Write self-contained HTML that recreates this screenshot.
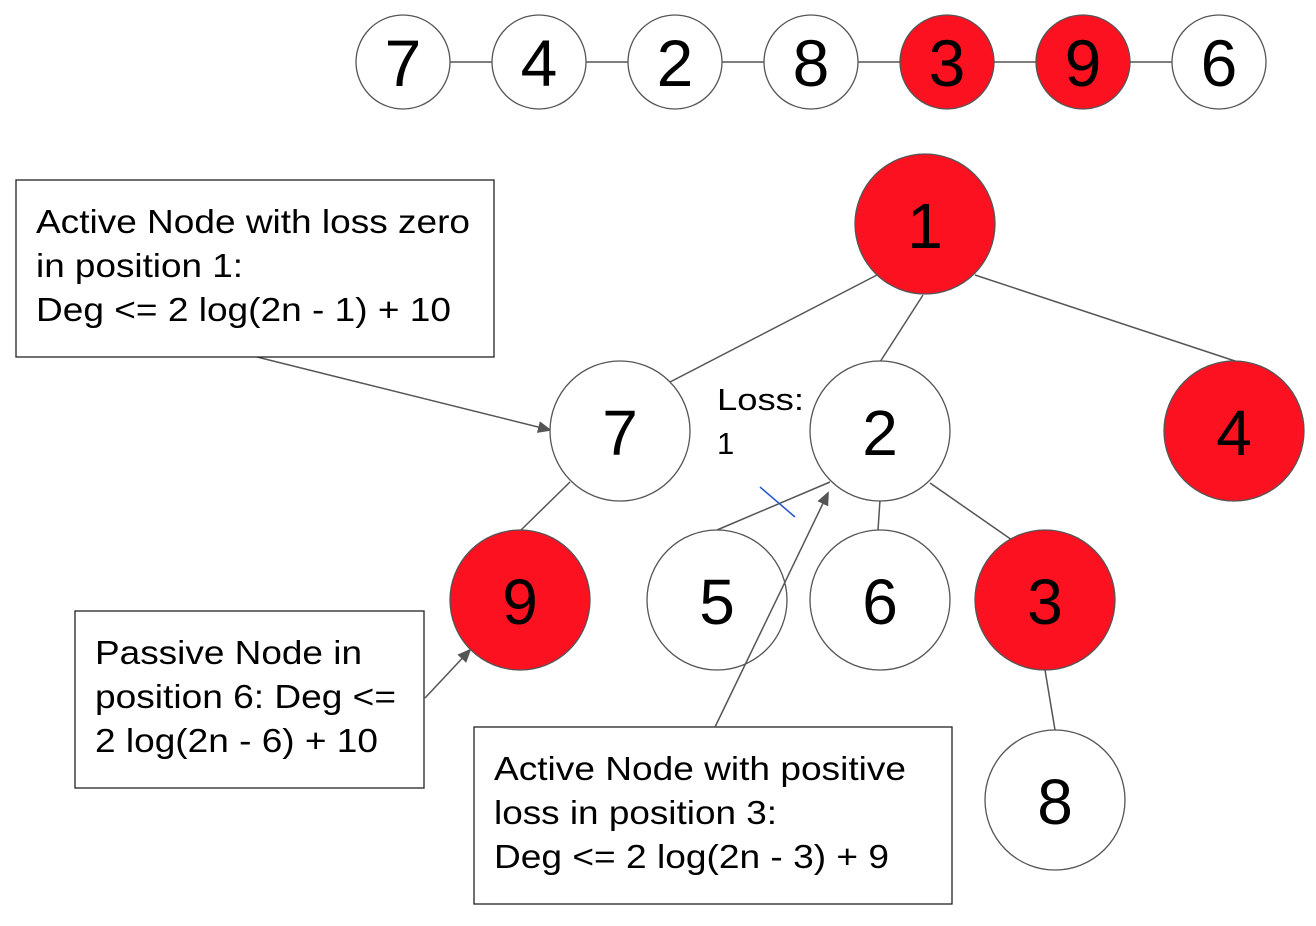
<!DOCTYPE html>
<html><head><meta charset="utf-8"><style>
html,body{margin:0;padding:0;background:#fff;width:1316px;height:926px;overflow:hidden}
svg{display:block}
text{font-family:"Liberation Sans",Arial,sans-serif}
</style></head><body>
<svg width="1316" height="926" viewBox="0 0 1316 926" xmlns="http://www.w3.org/2000/svg">
<defs><marker id="a" markerWidth="14" markerHeight="12" refX="12" refY="6" orient="auto" markerUnits="userSpaceOnUse"><path d="M0,0 L14,6 L0,12 z" fill="#555"/></marker></defs>
<g stroke="#555" stroke-width="1.5">
<line x1="450" y1="62" x2="492" y2="62"/><line x1="586" y1="62" x2="628" y2="62"/><line x1="722" y1="62" x2="764" y2="62"/><line x1="858" y1="62" x2="900" y2="62"/><line x1="994" y1="62" x2="1036" y2="62"/><line x1="1130" y1="62" x2="1172" y2="62"/>
<line x1="877" y1="275" x2="670" y2="382"/><line x1="923" y1="295" x2="880" y2="362"/><line x1="975" y1="275" x2="1238" y2="362"/>
<line x1="570" y1="482" x2="520" y2="531"/><line x1="830" y1="482" x2="717" y2="530"/><line x1="880" y1="500" x2="878" y2="530"/><line x1="930" y1="483" x2="1012" y2="540"/><line x1="1045" y1="670" x2="1055" y2="730"/>
<line x1="257" y1="357" x2="550" y2="430" marker-end="url(#a)"/>
<line x1="425" y1="698" x2="470" y2="650" marker-end="url(#a)"/>
</g>
<line x1="760" y1="487" x2="795" y2="517" stroke="#2255cc" stroke-width="1.5"/>
<g stroke="#555" stroke-width="1.3">
<circle cx="403" cy="62" r="47" fill="#fff"/><circle cx="539" cy="62" r="47" fill="#fff"/><circle cx="675" cy="62" r="47" fill="#fff"/><circle cx="811" cy="62" r="47" fill="#fff"/><circle cx="947" cy="62" r="47" fill="#fc1120"/><circle cx="1083" cy="62" r="47" fill="#fc1120"/><circle cx="1219" cy="62" r="47" fill="#fff"/>
<circle cx="925" cy="224" r="70" fill="#fc1120"/><circle cx="620" cy="431" r="70" fill="#fff"/><circle cx="880" cy="431" r="70" fill="#fff"/><circle cx="1234" cy="431" r="70" fill="#fc1120"/>
<circle cx="520" cy="600" r="70" fill="#fc1120"/><circle cx="717" cy="600" r="70" fill="#fff"/><circle cx="880" cy="600" r="70" fill="#fff"/><circle cx="1045" cy="600" r="70" fill="#fc1120"/><circle cx="1055" cy="800" r="70" fill="#fff"/>
<rect x="16" y="180" width="478" height="177" fill="#fff" stroke="#222"/>
<rect x="75" y="611" width="349" height="177" fill="#fff" stroke="#222"/>
<rect x="474" y="727" width="478" height="177" fill="#fff" stroke="#222"/>
</g>
<line x1="715" y1="727" x2="828" y2="493" stroke="#555" stroke-width="1.5" marker-end="url(#a)"/>
<g font-size="66" text-anchor="middle" fill="#000">
<text x="403" y="86">7</text><text x="539" y="86">4</text><text x="675" y="86">2</text><text x="811" y="86">8</text><text x="947" y="86">3</text><text x="1083" y="86">9</text><text x="1219" y="86">6</text>
</g>
<g font-size="64" text-anchor="middle" fill="#000">
<text x="925" y="248">1</text><text x="620" y="455">7</text><text x="880" y="455">2</text><text x="1234" y="455">4</text>
<text x="520" y="624">9</text><text x="717" y="624">5</text><text x="880" y="624">6</text><text x="1045" y="624">3</text><text x="1055" y="824">8</text>
</g>
<g font-size="33" fill="#000" lengthAdjust="spacingAndGlyphs">
<text x="36" y="233" textLength="434" lengthAdjust="spacingAndGlyphs">Active Node with loss zero</text>
<text x="36" y="277" textLength="207" lengthAdjust="spacingAndGlyphs">in position 1:</text>
<text x="36" y="321" textLength="415" lengthAdjust="spacingAndGlyphs">Deg &lt;= 2 log(2n - 1) + 10</text>
<text x="95" y="664" textLength="267" lengthAdjust="spacingAndGlyphs">Passive Node in</text>
<text x="95" y="708" textLength="301" lengthAdjust="spacingAndGlyphs">position 6: Deg &lt;=</text>
<text x="95" y="752" textLength="283" lengthAdjust="spacingAndGlyphs">2 log(2n - 6) + 10</text>
<text x="494" y="780" textLength="412" lengthAdjust="spacingAndGlyphs">Active Node with positive</text>
<text x="494" y="824" textLength="283" lengthAdjust="spacingAndGlyphs">loss in position 3:</text>
<text x="494" y="868" textLength="395" lengthAdjust="spacingAndGlyphs">Deg &lt;= 2 log(2n - 3) + 9</text>
</g>
<g font-size="31" fill="#000">
<text x="717" y="410" textLength="87" lengthAdjust="spacingAndGlyphs">Loss:</text><text x="717" y="454">1</text>
</g>
</svg>
</body></html>
